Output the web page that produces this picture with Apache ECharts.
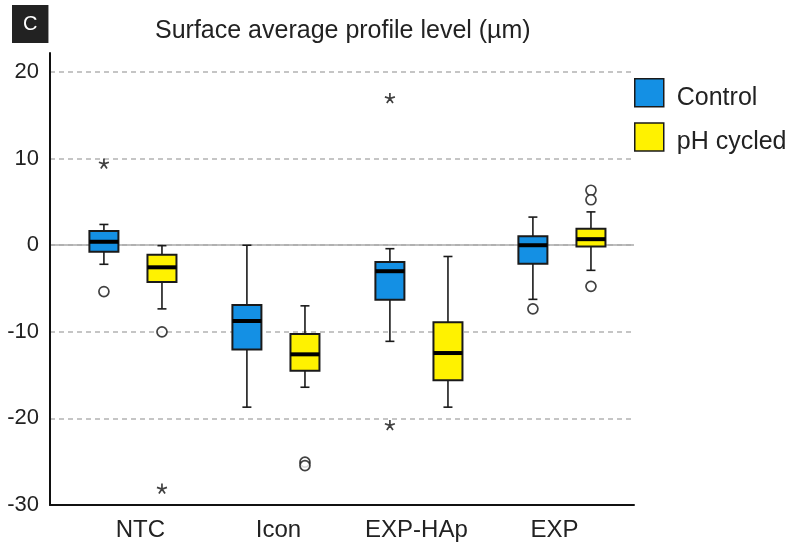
<!DOCTYPE html>
<html>
<head>
<meta charset="utf-8">
<script src="https://cdn.jsdelivr.net/npm/echarts@6/dist/echarts.min.js"></script>
<style>
  html, body { margin: 0; padding: 0; background: #fff; }
  #main { width: 790px; height: 545px; }
</style>
</head>
<body>
<div id="main"></div>
<script>
const categories = ['NTC', 'Icon', 'EXP-HAp', 'EXP']
const yTicks = [-30, -20, -10, 0, 10, 20]

// [min, Q1, median, Q3, max] per category
const controlBoxes = [
  [-2.2, -0.75, 0.4, 1.65, 2.4],
  [-18.7, -12.05, -8.75, -6.9, 0],
  [-11.1, -6.3, -3.0, -1.95, -0.4],
  [-6.25, -2.15, 0, 1.05, 3.25]
]
const phBoxes = [
  [-7.35, -4.25, -2.55, -1.1, -0.05],
  [-16.4, -14.5, -12.6, -10.25, -7.0],
  [-18.7, -15.6, -12.45, -8.9, -1.3],
  [-2.9, -0.15, 0.7, 1.9, 3.85]
]

// [category index, value]
const controlCircles = [[0, -5.35], [3, -7.35]]
const controlStars = [[0, 9.45], [2, 17.0], [2, -20.75]]
const phCircles = [[0, -10], [1, -25.05], [1, -25.45], [3, 6.35], [3, 5.25], [3, -4.75]]
const phStars = [[0, -28.1]]

const BLUE = '#1490e4'
const YELLOW = '#fff200'
const EDGE = '#1a1a1a'
const FONT = 'Liberation Sans, Arial, sans-serif'
const SHIFT = 0.203 // half distance between the two boxes of a group, in category units
const LABEL_SPREAD = 0.965 // category labels sit a little closer together than the groups

const boxData = (boxes, shift) => boxes.map((b, i) => [i + shift, ...b])
const pointData = (pts, shift) => pts.map(p => [p[0] + shift, p[1]])
const mid = (categories.length - 1) / 2
const labelPos = categories.map((c, i) => mid + (i - mid) * LABEL_SPREAD)

// five armed asterisk
const starPath = 'path://' + [0, 1, 2, 3, 4].map(k => {
  const a = (-90 + 72 * k) * Math.PI / 180
  return `M0 0L${(5 * Math.cos(a)).toFixed(2)} ${(5 * Math.sin(a)).toFixed(2)}`
}).join('')

function renderBox(params, api) {
  const x = api.value(0)
  const lo = api.coord([x, api.value(1)])
  const q1 = api.coord([x, api.value(2)])
  const med = api.coord([x, api.value(3)])
  const q3 = api.coord([x, api.value(4)])
  const hi = api.coord([x, api.value(5)])
  const cx = lo[0]
  const half = 14.5
  const cap = 4.5
  const line = { stroke: EDGE, lineWidth: 1.6 }
  return {
    type: 'group',
    children: [
      { type: 'line', shape: { x1: cx, y1: hi[1], x2: cx, y2: q3[1] }, style: line },
      { type: 'line', shape: { x1: cx, y1: q1[1], x2: cx, y2: lo[1] }, style: line },
      { type: 'line', shape: { x1: cx - cap, y1: hi[1], x2: cx + cap, y2: hi[1] }, style: line },
      { type: 'line', shape: { x1: cx - cap, y1: lo[1], x2: cx + cap, y2: lo[1] }, style: line },
      {
        type: 'rect',
        shape: { x: cx - half, y: q3[1], width: half * 2, height: q1[1] - q3[1] },
        style: { fill: api.visual('color'), stroke: EDGE, lineWidth: 2 }
      },
      { type: 'line', shape: { x1: cx - half, y1: med[1], x2: cx + half, y2: med[1] }, style: { stroke: '#000', lineWidth: 4 } }
    ]
  }
}

function boxSeries(name, boxes, shift, color) {
  return {
    name: name,
    type: 'custom',
    renderItem: renderBox,
    itemStyle: { color: color },
    encode: { x: 0, y: [1, 2, 3, 4, 5] },
    data: boxData(boxes, shift),
    z: 3
  }
}

function circleSeries(name, pts, shift) {
  return {
    name: name,
    type: 'scatter',
    symbol: 'circle',
    symbolSize: 10,
    itemStyle: { color: '#fff', borderColor: '#111', borderWidth: 1.7 },
    data: pointData(pts, shift),
    z: 4
  }
}

function starSeries(name, pts, shift) {
  return {
    name: name,
    type: 'scatter',
    symbol: starPath,
    symbolSize: 10,
    itemStyle: { color: 'rgba(0,0,0,0)', borderColor: '#111', borderWidth: 1.7 },
    data: pointData(pts, shift),
    z: 4
  }
}

const chart = echarts.init(document.getElementById('main'))

chart.setOption({
  animation: false,
  textStyle: { fontFamily: FONT },
  title: [
    {
      text: 'Surface average profile level (µm)',
      left: 155,
      top: 19,
      padding: 0,
      textStyle: { fontSize: 25, fontWeight: 'normal', color: '#222', fontFamily: FONT }
    },
    {
      text: 'C',
      left: 12,
      top: 5,
      padding: [9, 11],
      backgroundColor: '#222',
      textStyle: { fontSize: 20, fontWeight: 'normal', color: '#fff', fontFamily: FONT }
    }
  ],
  legend: {
    orient: 'vertical',
    left: 634,
    top: 78,
    padding: 0,
    itemWidth: 29,
    itemHeight: 28,
    itemGap: 12,
    formatter: name => `{t|${name}}`,
    textStyle: {
      fontSize: 25,
      color: '#222',
      fontFamily: FONT,
      padding: [0, 0, 0, 8],
      rich: { t: { fontSize: 25, color: '#222', fontFamily: FONT, padding: [10, 0, 0, 0] } }
    },
    data: [
      { name: 'Control', icon: 'rect', itemStyle: { color: BLUE, borderColor: EDGE, borderWidth: 1.5 } },
      { name: 'pH cycled', icon: 'rect', itemStyle: { color: YELLOW, borderColor: EDGE, borderWidth: 1.5 } }
    ]
  },
  grid: { left: 50, top: 53, width: 584, height: 452 },
  xAxis: {
    type: 'value',
    min: -0.58,
    max: 3.504,
    axisLine: { show: true, onZero: false, lineStyle: { color: '#111', width: 2 } },
    axisTick: { show: false },
    splitLine: { show: false },
    axisLabel: {
      customValues: labelPos,
      formatter: v => categories[labelPos.indexOf(v)],
      fontSize: 24,
      color: '#222',
      margin: 13,
      fontFamily: FONT
    }
  },
  yAxis: [
    {
      type: 'value',
      min: -30,
      max: 22.2,
      interval: 10,
      axisLine: { show: true, onZero: false, lineStyle: { color: '#111', width: 2 } },
      axisTick: { show: false },
      axisLabel: {
        customValues: yTicks,
        fontSize: 22,
        color: '#222',
        margin: 11,
        fontFamily: FONT
      },
      splitLine: {
        show: true,
        showMinLine: false,
        showMaxLine: false,
        lineStyle: { type: [5, 4], color: '#b3b3b3', width: 1.5 }
      }
    },
    {
      // solid reference line at zero, kept under the boxes
      type: 'value',
      min: -30,
      max: 22.2,
      interval: 30,
      axisLine: { show: false },
      axisTick: { show: false },
      axisLabel: { show: false },
      splitLine: {
        show: true,
        showMinLine: false,
        showMaxLine: false,
        lineStyle: { type: 'solid', color: '#aaa', width: 1.5 }
      }
    }
  ],
  series: [
    boxSeries('Control', controlBoxes, -SHIFT, BLUE),
    boxSeries('pH cycled', phBoxes, SHIFT, YELLOW),
    circleSeries('Control outliers', controlCircles, -SHIFT),
    circleSeries('pH cycled outliers', phCircles, SHIFT),
    starSeries('Control extremes', controlStars, -SHIFT),
    starSeries('pH cycled extremes', phStars, SHIFT)
  ]
})
</script>
</body>
</html>
